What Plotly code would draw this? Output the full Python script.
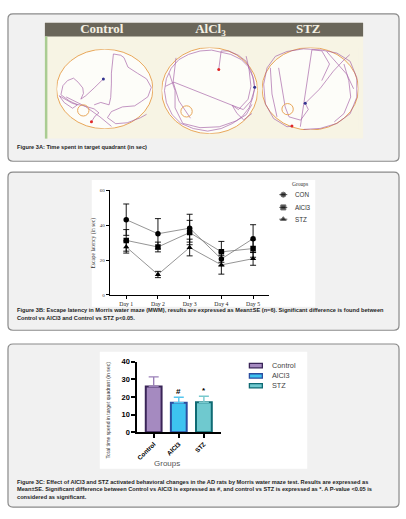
import plotly.graph_objects as go

W, H = 406, 519

# ---- Figure 3B: escape latency (sec) per day ----
days = ["Day 1", "Day 2", "Day 3", "Day 4", "Day 5"]
con_mean = [43.2, 35.1, 38.3, 20.6, 32.3]
con_se = [9.0, 8.7, 8.0, 4.0, 8.0]
alcl3_mean = [31.3, 27.5, 35.8, 24.7, 26.6]
alcl3_se = [6.2, 2.8, 7.0, 6.0, 5.0]
stz_mean = [27.5, 11.7, 27.2, 17.2, 20.8]
stz_se = [3.5, 1.8, 4.8, 5.3, 3.8]

# ---- Figure 3C: total time in target quadrant (sec) ----
groups = ["Control", "AlCl3", "STZ"]
time_mean = [25.9, 16.7, 17.0]
time_se = [5.5, 3.1, 3.4]
sig_marks = ["", "#", "*"]

# ---- Figure 3A: swim tracks, % of arena box (x from left, y from top) ----
ctrl_track_x = [36.2, 40, 44, 39, 28.6, 16.6, 2.8, 7.9, 16.6, 21.7, 13.1, 4.5, 6.6, 11.4, 17.6, 22.4, 27.2, 27.9, 25.2, 30.3, 39, 48.6, None,
                39, 45.9, 54.5, 56.2, 56.9, 56.9, 59, 66.6, 70, 74.1, 83.8, 93.4, 98.3, 94.8, 87.9, 81, 68.3, 56.9, 52.8, 61.4, 73.4, 87.2, 93.4, None,
                10, 30, 45, 57]
ctrl_track_y = [91.1, 84, 80, 75, 71.2, 68.2, 58.5, 67, 74.2, 69.9, 64.8, 57.2, 45.8, 39.4, 36.4, 41.5, 48.7, 55.5, 62.7, 58.5, 48.7, 37.3, None,
                69.9, 66.9, 69.9, 60.6, 43.6, 30.1, 6, 7.6, 10.6, 22.5, 30.1, 37.3, 47.9, 59.7, 65.7, 71.2, 72.5, 78.4, 86, 93.6, 92.4, 86, 81.8, None,
                60, 72, 85, 97]
alcl3_track_x = [59.5, 61, 62, 70, 80, 88, 93, 96, 96.9, 95, 91, 84, 74, 62, 48, 33, 20, 11, 5, 3, 5, 10, 18, 28, 40, 52, 60, 72, 83, 90, 95, 97, 93, 85, 73.4, 12.8, 4, None,
                 8, 14, 14, 22, 40, 60, 78, 88, 94, None,
                 15, 12, 18, 30, None,
                 88, 91, 93, 90, 80, 73.4, 78.5, 85.5, 94]
alcl3_track_y = [25.4, 12, 4, 4, 9, 16, 27, 38, 46.2, 58, 70, 80, 88, 94, 97, 94, 88, 78, 64, 50, 36, 24, 14, 8, 4, 3, 5, 8, 14, 22, 34, 48, 62, 72, 67, 40.2, 45, None,
                 30, 50, 70, 88, 93, 92, 85, 78, 66, None,
                 12, 40, 62, 82, None,
                 10, 25, 45, 60, 72, 67, 76.5, 84, 76.5]
stz_track_x = [31, 25.9, 12, 3.4, 1.7, 5.2, 13.8, 25.9, 43.1, 60.3, 77.6, 91.4, 98.3, 98.3, 91.4, 77.6, 60.3, 43.1, None,
               39.7, 51.7, 62, 70, 62, None,
               17.2, 20, 24, 28, 40, 48, 44.8, 60, 74, 85, 91, None,
               8.6, 10.3, 15.5, None,
               85, 90, 92, 85, 75, None,
               67, 88, 95]
stz_track_y = [95.2, 96, 86, 68.3, 44.4, 24.6, 10.7, 4.8, 1.6, 2.8, 6.7, 16.7, 36.5, 60.3, 80.2, 92, 98, 99.2, None,
               96, 2.8, 4, 20, 40, None,
               24.6, 45, 72, 84, 88, 75, 67.5, 50, 28.6, 15, 8.7, None,
               24.6, 56.3, 84, None,
               20, 40, 60, 80, 90, None,
               4.8, 32.5, 50]
# start (red) and end (blue) points
ctrl_dots = ([36.2, 48.6], [91.1, 37.3])
alcl3_dots = ([59.5, 96.9], [25.4, 46.2])
stz_dots = ([31, 44.8], [95.2, 67.5])
arena_titles = ["Control", "AlCl<sub>3</sub>", "STZ"]


def fx(x):
    return x / W


def fy(y):
    return 1 - y / H


def rounded_box(x0, y0, x1, y1, r):
    pts = [
        ("M", x0 + r, y0), ("L", x1 - r, y0), ("Q", x1, y0, x1, y0 + r),
        ("L", x1, y1 - r), ("Q", x1, y1, x1 - r, y1), ("L", x0 + r, y1),
        ("Q", x0, y1, x0, y1 - r), ("L", x0, y0 + r), ("Q", x0, y0, x0 + r, y0),
    ]
    parts = []
    for p in pts:
        cmd, vals = p[0], p[1:]
        coords = []
        for i in range(0, len(vals), 2):
            coords.append(f"{fx(vals[i]):.5f},{fy(vals[i + 1]):.5f}")
        parts.append(cmd + " " + " ".join(coords))
    return " ".join(parts) + " Z"


def label(text, x, y, font, xanchor="center", angle=0):
    # paper-positioned text, explicit anchors (plotly's "auto" shifts them)
    return dict(text=text, x=fx(x), y=fy(y), xref="paper", yref="paper", xanchor=xanchor,
                yanchor="middle", textangle=angle, showarrow=False, font=font)


SERIF = "Liberation Serif"
SANS = "Liberation Sans"

fig = go.Figure()

# ---- panel B traces ----
series_b = [
    ("CON", con_mean, con_se, "circle"),
    ("AlCl3", alcl3_mean, alcl3_se, "square"),
    ("STZ", stz_mean, stz_se, "triangle-up"),
]
for name, mean, se, sym in series_b:
    fig.add_trace(go.Scatter(
        x=days, y=mean, mode="lines+markers", name=name,
        line=dict(color="#7a7a7a", width=0.8),
        marker=dict(symbol=sym, size=5.5, color="black"),
        error_y=dict(type="data", array=se, color="black", thickness=0.9, width=3),
        xaxis="x", yaxis="y",
    ))

# ---- panel C traces ----
bar_fill = ["#a58ac0", "#3dc3f0", "#6fc9cf"]
bar_edge = ["#3a2558", "#2b4ea0", "#0f6a73"]
bar_err = ["#9a80b8", "#55c6ef", "#78c9cd"]
for g, m, se, fc, ec, erc in zip(groups, time_mean, time_se, bar_fill, bar_edge, bar_err):
    fig.add_trace(go.Bar(
        x=[g], y=[m], width=0.63,
        marker=dict(color=fc, line=dict(color=ec, width=2)),
        error_y=dict(type="data", array=[se], arrayminus=[0], symmetric=False,
                     color=erc, thickness=1.4, width=5),
        xaxis="x2", yaxis="y2",
    ))

# ---- panel A tracks ----
tracks = [
    (ctrl_track_x, ctrl_track_y, ctrl_dots, "x3", "y3"),
    (alcl3_track_x, alcl3_track_y, alcl3_dots, "x4", "y4"),
    (stz_track_x, stz_track_y, stz_dots, "x5", "y5"),
]
for tx, ty, dots, xa, ya in tracks:
    fig.add_trace(go.Scatter(
        x=tx, y=ty, mode="lines", connectgaps=False,
        line=dict(color="#9b4f9e", width=0.7), opacity=0.85,
        xaxis=xa, yaxis=ya,
    ))
    fig.add_trace(go.Scatter(
        x=dots[0], y=dots[1], mode="markers",
        marker=dict(size=3, color=["#e02828", "#33338f"]),
        xaxis=xa, yaxis=ya,
    ))

# ---- legend for panel B (pixel overlay axis) ----
leg_b_y = [194, 207, 219]
for (name, _, _, sym), yy in zip(series_b, leg_b_y):
    fig.add_trace(go.Scatter(
        x=[279, 283, 287], y=[yy, yy, yy], mode="lines+markers",
        line=dict(color="#333", width=0.8),
        marker=dict(symbol=sym, size=[0, 5, 0], color="black"),
        xaxis="x6", yaxis="y6",
    ))

# arena headers
fig.add_trace(go.Scatter(
    x=[101, 210, 308], y=[26.5, 26.5, 26.5], mode="text", text=[f"<b>{t}</b>" for t in arena_titles],
    textfont=dict(family=SERIF, size=13, color="#f4f0e2"), textposition="middle center",
    xaxis="x6", yaxis="y6",
))

shapes = []
# panel boxes
for y0, y1 in [(10, 160), (171, 332), (346, 512)]:
    shapes.append(dict(type="path", path=rounded_box(7, y0, 399, y1, 5), xref="paper", yref="paper",
                       line=dict(color="#8a8a8a", width=1.2), fillcolor="#f1f1f1", layer="below"))

# panel A image
shapes.append(dict(type="rect", xref="paper", yref="paper", x0=fx(44), x1=fx(363), y0=fy(137), y1=fy(19),
                   fillcolor="#f7f4e4", line=dict(width=0), layer="below"))
shapes.append(dict(type="rect", xref="paper", yref="paper", x0=fx(44), x1=fx(363), y0=fy(33), y1=fy(19),
                   fillcolor="#6a665a", line=dict(width=0), layer="below"))
shapes.append(dict(type="rect", xref="paper", yref="paper", x0=fx(44), x1=fx(46.5), y0=fy(137), y1=fy(33),
                   fillcolor="#a9cc92", line=dict(width=0), layer="below"))
for xa, ya in [("x3", "y3"), ("x4", "y4"), ("x5", "y5")]:
    shapes.append(dict(type="circle", xref=xa, yref=ya, x0=0, x1=100, y0=0, y1=100,
                       fillcolor="#fdfdf9", line=dict(color="#e8a75a", width=1), layer="below"))
for cx, cy in [(82.5, 108.3), (186, 109.3), (287.3, 107)]:
    shapes.append(dict(type="circle", xref="paper", yref="paper", x0=fx(cx - 5.7), x1=fx(cx + 5.7),
                       y0=fy(cy + 5.7), y1=fy(cy - 5.7), line=dict(color="#e8a75a", width=1)))

# white chart areas for B and C
shapes.append(dict(type="rect", xref="paper", yref="paper", x0=fx(91), x1=fx(315), y0=fy(308), y1=fy(179),
                   fillcolor="white", line=dict(width=0), layer="below"))
shapes.append(dict(type="rect", xref="paper", yref="paper", x0=fx(99), x1=fx(307), y0=fy(473), y1=fy(354),
                   fillcolor="white", line=dict(width=0), layer="below"))

# legend boxes for C
leg_c_y = [368, 378.5, 388.5]
for fc, ec, yy in zip(bar_fill, bar_edge, leg_c_y):
    shapes.append(dict(type="rect", xref="paper", yref="paper", x0=fx(249), x1=fx(262), y0=fy(yy + 2.2),
                       y1=fy(yy - 2.2), fillcolor=fc, line=dict(color=ec, width=1.3)))

annotations = []
cap_font = dict(family=SANS, size=5.65, color="#1e1e1e")
captions = [
    (146, "Figure 3A: Time spent in target quadrant (in sec)"),
    (311, "Figure 3B: Escape latency in Morris water maze (MWM), results are expressed as Mean±SE (n=6). Significant difference is found between"),
    (319.5, "Control vs AlCl3 and Control vs STZ p<0.05."),
    (486, "Figure 3C: Effect of AlCl3 and STZ activated behavioral changes in the AD rats by Morris water maze test. Results are expressed as"),
    (494, "Mean±SE. Significant difference between Control vs AlCl3 is expressed as #, and control vs STZ is expressed as *. A P-value <0.05 is"),
    (502, "considered as significant."),
]
for yy, txt in captions:
    annotations.append(label(f"<b>{txt}</b>", 14, yy, cap_font, xanchor="left"))

# panel B titles / legend text
annotations.append(label("Escape latency (in sec)", 93, 243, dict(family=SERIF, size=5.5, color="#333"), angle=-90))
annotations.append(label("Groups", 300, 183.5, dict(family=SERIF, size=5.5, color="#333")))
for (name, _, _, _), yy in zip(series_b, leg_b_y):
    annotations.append(label(name, 293, yy, dict(family=SANS, size=6.3, color="#333"), xanchor="left"))

# panel C titles / legend / significance
annotations.append(label("Total time spend in target quadrant (in sec)", 107, 413,
                         dict(family=SANS, size=5.1, color="#333"), angle=-90))
annotations.append(label("Groups", 166, 467.5, dict(family=SANS, size=8, color="#555")))
for g, yy in zip(groups, leg_c_y):
    annotations.append(label(g, 270, yy, dict(family=SANS, size=7.3, color="#444"), xanchor="left"))
for g, m, se, mk in zip(groups, time_mean, time_se, sig_marks):
    if mk:
        annotations.append(dict(text=f"<b>{mk}</b>", x=g, y=m + se + 3.5, xref="x2", yref="y2",
                                showarrow=False, font=dict(family=SANS, size=8, color="black")))

hidden = dict(visible=False, showgrid=False, zeroline=False)
fig.update_layout(
    width=W, height=H, margin=dict(l=0, r=0, t=0, b=0),
    paper_bgcolor="white", plot_bgcolor="rgba(0,0,0,0)",
    showlegend=False, barmode="overlay",
    xaxis=dict(domain=[fx(109), fx(268.6)], anchor="y", type="category", range=[-0.52, 4.5],
               showline=True, linecolor="black", linewidth=0.8, ticks="outside", ticklen=3,
               tickwidth=0.8, tickcolor="black", showgrid=False, zeroline=False,
               tickfont=dict(family=SERIF, size=5.8, color="#222")),
    yaxis=dict(domain=[fy(296), fy(189.7)], anchor="x", range=[0, 60], tickvals=[0, 20, 40, 60],
               showline=True, linecolor="black", linewidth=0.8, ticks="outside", ticklen=3,
               tickwidth=0.8, tickcolor="black", showgrid=False, zeroline=False,
               tickfont=dict(family=SERIF, size=5, color="#333")),
    xaxis2=dict(domain=[fx(136.7), fx(221)], anchor="y2", type="category", range=[-0.65, 2.7],
                showline=True, linecolor="black", linewidth=1.8, ticks="outside", ticklen=4,
                tickwidth=1.5, tickcolor="black", tickangle=-45, showgrid=False, zeroline=False,
                tickfont=dict(family=SANS, size=6.3, color="black", weight="bold")),
    yaxis2=dict(domain=[fy(435.7), fy(364)], anchor="x2", range=[0, 40], dtick=10,
                showline=True, linecolor="black", linewidth=1.8, ticks="outside", ticklen=4,
                tickwidth=1.5, tickcolor="black", showgrid=False, zeroline=False,
                tickfont=dict(family=SANS, size=7.5, color="black", weight="bold")),
    xaxis3=dict(domain=[fx(55.7), fx(152.3)], range=[0, 100], anchor="y3", **hidden),
    yaxis3=dict(domain=[fy(127), fy(46)], range=[100, 0], anchor="x3", **hidden),
    xaxis4=dict(domain=[fx(161), fx(257.3)], range=[0, 100], anchor="y4", **hidden),
    yaxis4=dict(domain=[fy(132), fy(44.3)], range=[100, 0], anchor="x4", **hidden),
    xaxis5=dict(domain=[fx(261.7), fx(358.3)], range=[0, 100], anchor="y5", **hidden),
    yaxis5=dict(domain=[fy(128.3), fy(44.3)], range=[100, 0], anchor="x5", **hidden),
    xaxis6=dict(domain=[0, 1], range=[0, W], anchor="y6", **hidden),
    yaxis6=dict(domain=[0, 1], range=[H, 0], anchor="x6", **hidden),
    shapes=shapes, annotations=annotations,
)

fig.write_html("out.html", config={"displayModeBar": False},
               post_script="document.body.style.margin='0';document.body.style.overflow='hidden';")
